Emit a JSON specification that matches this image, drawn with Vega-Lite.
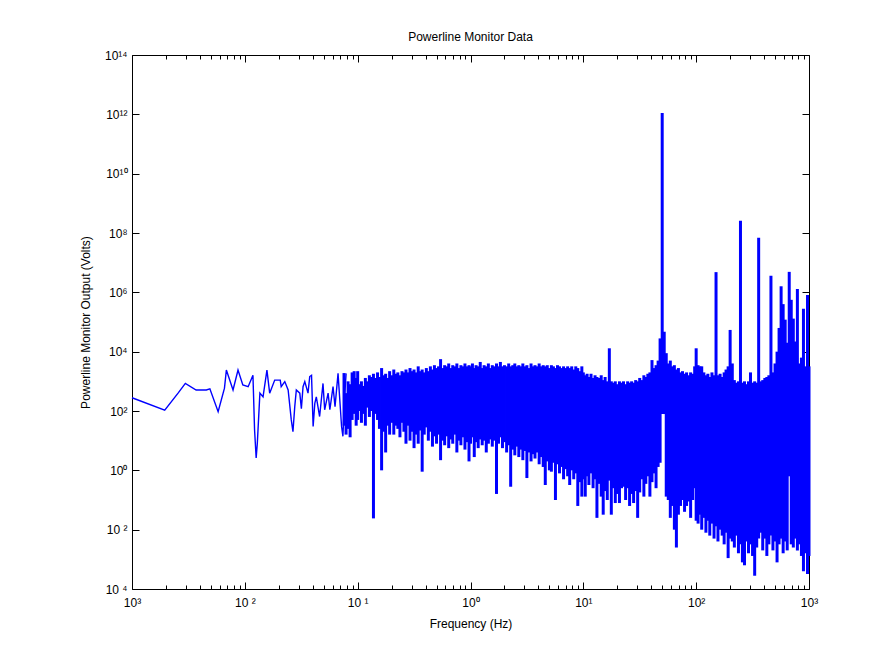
{
"$schema": "https://vega.github.io/schema/vega-lite/v6.json",
"width": 677,
"height": 534,
"autosize": {"type": "none"},
"padding": {"left": 132, "top": 55, "right": 79, "bottom": 68},
"background": "white",
"title": {"text": "Powerline Monitor Data", "fontSize": 12, "fontWeight": "normal", "font": "Liberation Sans", "color": "black", "offset": -7, "anchor": "middle", "baseline": "bottom"},
"config": {
"view": {"stroke": null},
"axis": {"labelFont": "Liberation Sans", "labelFontSize": 12, "labelColor": "black", "titleFont": "Liberation Sans", "titleFontSize": 12, "titleFontWeight": "normal", "titleColor": "black", "domainColor": "black", "domainWidth": 1, "tickColor": "black", "tickWidth": 1, "grid": false, "labelFlush": false, "labelOverlap": false}
},
"datasets": {
"band": [
{"f":0.0757,"lo":32,"hi":1900},{"f":0.0789,"lo":16,"hi":400},{"f":0.0822,"lo":25,"hi":1000},{"f":0.0857,"lo":13,"hi":800},{"f":0.0893,"lo":50,"hi":2000},{"f":0.0931,"lo":80,"hi":2200},{"f":0.097,"lo":32,"hi":1300},
{"f":0.1,"lo":50,"hi":2200},{"f":0.104,"lo":100,"hi":800},{"f":0.108,"lo":40,"hi":1000},{"f":0.112,"lo":80,"hi":700},{"f":0.117,"lo":32,"hi":1300},{"f":0.122,"lo":130,"hi":1000},{"f":0.127,"lo":63,"hi":1600},{"f":0.132,"lo":100,"hi":1400},{"f":0.138,"lo":0.024,"hi":1800},{"f":0.144,"lo":80,"hi":1300},{"f":0.15,"lo":50,"hi":2000},{"f":0.156,"lo":25,"hi":1400},{"f":0.163,"lo":1,"hi":2800},{"f":0.17,"lo":20,"hi":1600},{"f":0.177,"lo":4,"hi":1800},{"f":0.184,"lo":32,"hi":1300},{"f":0.192,"lo":16,"hi":2200},{"f":0.2,"lo":40,"hi":1600},{"f":0.209,"lo":16,"hi":2500},{"f":0.218,"lo":32,"hi":1800},{"f":0.227,"lo":25,"hi":2000},{"f":0.237,"lo":13,"hi":1600},{"f":0.247,"lo":40,"hi":2200},{"f":0.257,"lo":20,"hi":2000},{"f":0.268,"lo":7.9,"hi":2500},{"f":0.279,"lo":32,"hi":2000},{"f":0.291,"lo":10,"hi":2800},{"f":0.303,"lo":20,"hi":2200},{"f":0.316,"lo":5.6,"hi":2500},{"f":0.33,"lo":16,"hi":2000},{"f":0.344,"lo":7.9,"hi":3200},{"f":0.358,"lo":22,"hi":2200},{"f":0.373,"lo":0.9,"hi":2500},{"f":0.389,"lo":16,"hi":2000},{"f":0.406,"lo":28,"hi":2800},{"f":0.423,"lo":10,"hi":2200},{"f":0.441,"lo":20,"hi":3200},{"f":0.46,"lo":6.3,"hi":2500},{"f":0.479,"lo":14,"hi":3500},{"f":0.5,"lo":7.9,"hi":2800},{"f":0.521,"lo":16,"hi":3200},{"f":0.543,"lo":2.2,"hi":5600},{"f":0.566,"lo":10,"hi":2800},{"f":0.59,"lo":7,"hi":3500},{"f":0.615,"lo":14,"hi":3200},{"f":0.641,"lo":5.6,"hi":4000},{"f":0.668,"lo":11,"hi":2800},{"f":0.696,"lo":7.9,"hi":3500},{"f":0.726,"lo":16,"hi":3200},{"f":0.757,"lo":4,"hi":4000},{"f":0.789,"lo":10,"hi":2800},{"f":0.822,"lo":7,"hi":3500},{"f":0.857,"lo":13,"hi":3200},{"f":0.893,"lo":5,"hi":4000},{"f":0.931,"lo":8.9,"hi":3200},{"f":0.97,"lo":2,"hi":3500},
{"f":1,"lo":7.9,"hi":3200},{"f":1.04,"lo":13,"hi":4000},{"f":1.08,"lo":2.8,"hi":2800},{"f":1.12,"lo":8.9,"hi":3500},{"f":1.17,"lo":5.6,"hi":3200},{"f":1.22,"lo":11,"hi":4500},{"f":1.27,"lo":7,"hi":2800},{"f":1.32,"lo":10,"hi":3500},{"f":1.38,"lo":4,"hi":3200},{"f":1.44,"lo":7.9,"hi":4000},{"f":1.5,"lo":11,"hi":2800},{"f":1.56,"lo":6.3,"hi":3500},{"f":1.63,"lo":10,"hi":3200},{"f":1.7,"lo":0.16,"hi":4000},{"f":1.77,"lo":7.9,"hi":3200},{"f":1.84,"lo":13,"hi":4500},{"f":1.92,"lo":5.6,"hi":3200},{"f":2,"lo":8.9,"hi":3500},{"f":2.09,"lo":4,"hi":3200},{"f":2.18,"lo":7,"hi":4000},{"f":2.27,"lo":0.28,"hi":3200},{"f":2.37,"lo":5,"hi":3500},{"f":2.47,"lo":3.2,"hi":4000},{"f":2.57,"lo":6.3,"hi":3200},{"f":2.68,"lo":2.8,"hi":3500},{"f":2.79,"lo":5,"hi":3200},{"f":2.91,"lo":2.2,"hi":4000},{"f":3.03,"lo":4.5,"hi":3200},{"f":3.16,"lo":0.55,"hi":3500},{"f":3.3,"lo":4,"hi":2800},{"f":3.44,"lo":2,"hi":4000},{"f":3.58,"lo":3.5,"hi":3200},{"f":3.73,"lo":2.5,"hi":3500},{"f":3.89,"lo":4,"hi":3200},{"f":4.06,"lo":1.6,"hi":4000},{"f":4.23,"lo":2.8,"hi":3200},{"f":4.41,"lo":1.3,"hi":3500},{"f":4.6,"lo":0.32,"hi":3200},{"f":4.79,"lo":2,"hi":3500},{"f":5,"lo":1,"hi":2800},{"f":5.21,"lo":0.9,"hi":3500},{"f":5.43,"lo":1.8,"hi":3200},{"f":5.66,"lo":0.1,"hi":2800},{"f":5.9,"lo":1.6,"hi":3500},{"f":6.15,"lo":0.79,"hi":3200},{"f":6.41,"lo":1.3,"hi":2800},{"f":6.68,"lo":0.5,"hi":3200},{"f":6.96,"lo":1.1,"hi":2800},{"f":7.26,"lo":0.63,"hi":3200},{"f":7.57,"lo":0.32,"hi":2800},{"f":7.89,"lo":1,"hi":3200},{"f":8.22,"lo":0.5,"hi":2500},{"f":8.57,"lo":0.79,"hi":3200},{"f":8.93,"lo":0.063,"hi":2800},{"f":9.31,"lo":0.4,"hi":2200},{"f":9.7,"lo":0.13,"hi":3200},
{"f":10,"lo":0.5,"hi":2000},{"f":10.4,"lo":0.13,"hi":1600},{"f":10.8,"lo":0.63,"hi":1800},{"f":11.2,"lo":0.32,"hi":1400},{"f":11.7,"lo":0.79,"hi":1800},{"f":12.2,"lo":0.25,"hi":1300},{"f":12.7,"lo":0.5,"hi":1600},{"f":13.2,"lo":0.025,"hi":1400},{"f":13.8,"lo":0.35,"hi":1300},{"f":14.4,"lo":0.13,"hi":1600},{"f":15,"lo":0.032,"hi":1100},{"f":15.6,"lo":0.2,"hi":1400},{"f":16.3,"lo":0.1,"hi":1000},{"f":17,"lo":0.45,"hi":13000},{"f":17.7,"lo":0.032,"hi":1000},{"f":18.4,"lo":0.25,"hi":900},{"f":19.2,"lo":0.079,"hi":1000},{"f":20,"lo":0.16,"hi":800},{"f":20.9,"lo":0.079,"hi":1000},{"f":21.8,"lo":0.25,"hi":900},{"f":22.7,"lo":0.28,"hi":1000},{"f":23.7,"lo":0.1,"hi":800},{"f":24.7,"lo":0.25,"hi":1000},{"f":25.7,"lo":0.063,"hi":900},{"f":26.8,"lo":0.16,"hi":1000},{"f":27.9,"lo":0.079,"hi":900},{"f":29.1,"lo":0.2,"hi":1100},{"f":30.3,"lo":0.025,"hi":1000},{"f":31.6,"lo":0.18,"hi":1300},{"f":33,"lo":0.5,"hi":1100},{"f":34.4,"lo":0.13,"hi":1600},{"f":35.8,"lo":0.35,"hi":1400},{"f":37.3,"lo":0.63,"hi":1800},{"f":38.9,"lo":0.13,"hi":2000},{"f":40.6,"lo":0.4,"hi":5200},{"f":42.3,"lo":0.79,"hi":2800},{"f":44.1,"lo":0.25,"hi":3500},{"f":46,"lo":1.3,"hi":5000},{"f":47.9,"lo":1.8,"hi":28000},{"f":50,"lo":79,"hi":1.1e12},{"f":52.1,"lo":79,"hi":47000},{"f":54.3,"lo":0.13,"hi":8900},{"f":56.6,"lo":0.1,"hi":4000},{"f":59,"lo":0.025,"hi":5000},{"f":61.5,"lo":0.063,"hi":3200},{"f":64.1,"lo":0.01,"hi":3500},{"f":66.8,"lo":0.0025,"hi":2500},{"f":69.6,"lo":0.032,"hi":2800},{"f":72.6,"lo":0.063,"hi":2000},{"f":75.7,"lo":0.1,"hi":2200},{"f":78.9,"lo":0.04,"hi":1800},{"f":82.2,"lo":0.063,"hi":2000},{"f":85.7,"lo":0.089,"hi":1600},{"f":89.3,"lo":0.025,"hi":2000},{"f":93.1,"lo":0.1,"hi":1800},{"f":97,"lo":0.25,"hi":3200},
{"f":100,"lo":0.02,"hi":13000},{"f":104,"lo":0.016,"hi":3500},{"f":108,"lo":0.032,"hi":3200},{"f":112,"lo":0.01,"hi":3200},{"f":117,"lo":0.025,"hi":2000},{"f":122,"lo":0.0079,"hi":1600},{"f":127,"lo":0.02,"hi":1800},{"f":132,"lo":0.0063,"hi":1400},{"f":138,"lo":0.016,"hi":2000},{"f":144,"lo":0.005,"hi":1600},{"f":150,"lo":0.013,"hi":4.8e6},{"f":156,"lo":0.004,"hi":1600},{"f":163,"lo":0.01,"hi":1800},{"f":170,"lo":0.0063,"hi":1400},{"f":177,"lo":0.0032,"hi":2000},{"f":184,"lo":0.0079,"hi":2500},{"f":192,"lo":0.0011,"hi":3200},{"f":200,"lo":0.005,"hi":54000},{"f":209,"lo":0.004,"hi":4000},{"f":218,"lo":0.0025,"hi":1100},{"f":227,"lo":0.0063,"hi":900},{"f":237,"lo":0.0016,"hi":1000},{"f":247,"lo":0.0032,"hi":2.6e8},{"f":257,"lo":0.00079,"hi":900},{"f":268,"lo":0.00063,"hi":1000},{"f":279,"lo":0.004,"hi":800},{"f":291,"lo":0.0016,"hi":1000},{"f":303,"lo":0.0032,"hi":2000},{"f":316,"lo":0.0013,"hi":900},{"f":330,"lo":0.00028,"hi":1000},{"f":344,"lo":0.0025,"hi":900},{"f":358,"lo":0.005,"hi":6.9e7},{"f":373,"lo":0.0079,"hi":1000},{"f":389,"lo":0.002,"hi":1100},{"f":406,"lo":0.005,"hi":1300},{"f":423,"lo":0.0013,"hi":1400},{"f":441,"lo":0.0032,"hi":1600},{"f":460,"lo":0.0063,"hi":3.6e6},{"f":479,"lo":0.002,"hi":2000},{"f":500,"lo":0.004,"hi":4000},{"f":521,"lo":0.00079,"hi":10000},{"f":543,"lo":0.0032,"hi":63000},{"f":566,"lo":0.005,"hi":1.6e6},{"f":590,"lo":0.0016,"hi":4e5},{"f":615,"lo":0.004,"hi":1.2e5},{"f":641,"lo":0.002,"hi":20000},{"f":668,"lo":0.63,"hi":4.9e6},{"f":696,"lo":0.0032,"hi":5.6e5},{"f":726,"lo":0.0025,"hi":1.3e5},{"f":757,"lo":0.005,"hi":22000},{"f":789,"lo":0.002,"hi":1.3e6},{"f":822,"lo":0.0032,"hi":4000},{"f":857,"lo":0.0013,"hi":6300},{"f":893,"lo":0.0004,"hi":2.8e5},{"f":931,"lo":0.0016,"hi":3200},{"f":970,"lo":0.00032,"hi":8.1e5},{"f":1000,"lo":0.0013,"hi":3200}
],
"low": [
{"f":0.001,"v":280},{"f":0.00195,"v":107},{"f":0.00256,"v":400},{"f":0.00297,"v":850},{"f":0.0037,"v":510},{"f":0.00456,"v":510},{"f":0.0049,"v":560},{"f":0.0058,"v":95},{"f":0.0066,"v":590},{"f":0.00686,"v":2400},{"f":0.00786,"v":510},{"f":0.0087,"v":2400},{"f":0.0096,"v":760},{"f":0.0107,"v":660},{"f":0.0118,"v":1600},{"f":0.0122,"v":23},{"f":0.0126,"v":2.6},{"f":0.0129,"v":8},{"f":0.0136,"v":400},{"f":0.0145,"v":300},{"f":0.0157,"v":2400},{"f":0.0166,"v":400},{"f":0.0184,"v":1100},{"f":0.0206,"v":1100},{"f":0.021,"v":660},{"f":0.0226,"v":980},{"f":0.0242,"v":510},{"f":0.0258,"v":50},{"f":0.0267,"v":20},{"f":0.0277,"v":140},{"f":0.0286,"v":510},{"f":0.0307,"v":400},{"f":0.0317,"v":120},{"f":0.0328,"v":660},{"f":0.034,"v":980},{"f":0.0363,"v":400},{"f":0.0376,"v":1450},{"f":0.039,"v":1600},{"f":0.0403,"v":30},{"f":0.0417,"v":180},{"f":0.043,"v":300},{"f":0.046,"v":65},{"f":0.0493,"v":850},{"f":0.051,"v":110},{"f":0.0547,"v":400},{"f":0.0567,"v":110},{"f":0.0605,"v":660},{"f":0.063,"v":140},{"f":0.067,"v":1860},{"f":0.072,"v":30},{"f":0.074,"v":14},{"f":0.077,"v":400},{"f":0.079,"v":1860}
]
},
"layer": [
{
"data": {"name": "band"},
"mark": {"type": "rule", "color": "#0000ff", "strokeWidth": 3},
"encoding": {
"x": {"field": "f", "type": "quantitative", "scale": {"type": "log", "domain": [0.001, 1000], "nice": false},
"axis": {"orient": "bottom", "title": "Frequency (Hz)", "titlePadding": 7,
"values": [0.001,0.002,0.003,0.004,0.005,0.006,0.007,0.008,0.009,0.01,0.02,0.03,0.04,0.05,0.06,0.07,0.08,0.09,0.1,0.2,0.3,0.4,0.5,0.6,0.7,0.8,0.9,1,2,3,4,5,6,7,8,9,10,20,30,40,50,60,70,80,90,100,200,300,400,500,600,700,800,900,1000],
"labelExpr": "abs(log(datum.value)/LN10 - round(log(datum.value)/LN10)) < 0.01 ? ['10³','10 ²','10 ¹','10⁰','10¹','10²','10³'][round(log(datum.value)/LN10)+3] : ''",
"tickSize": {"condition": {"test": "abs(log(datum.value)/LN10 - round(log(datum.value)/LN10)) < 0.01", "value": -7}, "value": -4},
"labelPadding": 15, "labelBaseline": "top"}},
"y": {"field": "lo", "type": "quantitative", "scale": {"type": "log", "domain": [0.0001, 1e14], "nice": false},
"axis": {"orient": "left", "title": "Powerline Monitor Output (Volts)", "titlePadding": 12,
"values": [0.0001,0.01,1,100,10000,1000000,100000000,10000000000,1000000000000,100000000000000],
"labelExpr": "['10 ⁴','10 ²','10⁰','10²','10⁴','10⁶','10⁸','10¹⁰','10¹²','10¹⁴'][round((round(log(datum.value)/LN10)+4)/2)]",
"tickSize": -7, "labelPadding": 12}},
"y2": {"field": "hi"}
}
},
{
"data": {"name": "low"},
"mark": {"type": "line", "color": "#0000ff", "strokeWidth": 1.4},
"encoding": {
"x": {"field": "f", "type": "quantitative", "scale": {"type": "log", "domain": [0.001, 1000], "nice": false},
"axis": {"orient": "top", "title": null, "labels": false,
"values": [0.001,0.002,0.003,0.004,0.005,0.006,0.007,0.008,0.009,0.01,0.02,0.03,0.04,0.05,0.06,0.07,0.08,0.09,0.1,0.2,0.3,0.4,0.5,0.6,0.7,0.8,0.9,1,2,3,4,5,6,7,8,9,10,20,30,40,50,60,70,80,90,100,200,300,400,500,600,700,800,900,1000],
"tickSize": {"condition": {"test": "abs(log(datum.value)/LN10 - round(log(datum.value)/LN10)) < 0.01", "value": -7}, "value": -4}}},
"y": {"field": "v", "type": "quantitative", "scale": {"type": "log", "domain": [0.0001, 1e14], "nice": false},
"axis": {"orient": "right", "title": null, "labels": false,
"values": [0.0001,0.01,1,100,10000,1000000,100000000,10000000000,1000000000000,100000000000000],
"tickSize": -7}}
}
}
],
"resolve": {"axis": {"x": "independent", "y": "independent"}}
}
